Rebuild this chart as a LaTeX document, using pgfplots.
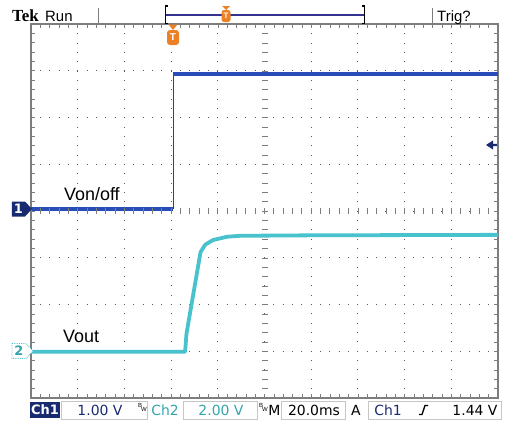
\documentclass[border=0pt]{standalone}
\usepackage{pgfplots}
\pgfplotsset{compat=1.18}
\usepackage{fontspec}
\setmainfont{Liberation Sans}
\newfontfamily\tekfont{Liberation Serif}
\newfontfamily\barfont{DejaVu Sans}

\definecolor{ch1}{RGB}{42,76,182}
\definecolor{navy}{RGB}{24,42,112}
\definecolor{ch2}{RGB}{72,194,204}
\definecolor{ch2txt}{RGB}{50,165,170}
\definecolor{tekorange}{RGB}{236,128,36}
\definecolor{grat}{RGB}{125,125,125}

\newcommand{\fs}[1]{\fontsize{#1}{#1}\selectfont}

\begin{document}
\begin{tikzpicture}
% page = 505 x 424 px, pixel coordinates (origin top left)
\begin{scope}[x=1bp,y=-1bp,shift={(-31bp,398bp)}]
  \path[use as bounding box] (0,0) rectangle (505,424);
\end{scope}

\begin{axis}[
    scale only axis,
    width=467bp, height=374bp,
    xmin=0, xmax=10, ymin=0, ymax=8,
    xtick={0,...,10}, ytick={0,...,8},
    minor x tick num=4, minor y tick num=4,
    xticklabels={}, yticklabels={},
    tick align=inside,
    major tick length=4bp, minor tick length=4bp,
    tick style={grat, line width=0.6bp},
    axis line style={grat, line width=1.4bp},
    grid=major,
    major grid style={black!65, line width=1bp,
        dash pattern=on 1bp off 8.34bp, dash phase=0.5bp},
]
% Ch2 (Vout), 2 V/div
\addplot[ch2, line width=3.8bp, line join=round] coordinates {
    (0,0.99) (3.30,0.99) (3.33,1.38) (3.63,3.12) (3.73,3.28)
    (3.90,3.38) (4.20,3.45) (4.48,3.47) (6.0,3.48) (10,3.49)};
% Ch1 (Von/off), 1 V/div
\addplot[ch1!55!violet, line width=0.8bp] coordinates {(3.04,4.04) (3.04,6.93)};
\addplot[ch1, line width=3.5bp] coordinates {(0,4.04) (3.04,4.04)};
\addplot[ch1, line width=3.5bp] coordinates {(3.04,6.93) (10,6.93)};
\end{axis}

\begin{scope}[x=1bp,y=-1bp,shift={(-31bp,398bp)}]
  % centre lines with cross ticks
  \draw[grat, line width=6bp, dash pattern=on 0.8bp off 8.54bp, dash phase=0.4bp]
    (31,211) -- (498,211);
  \draw[grat, line width=6bp, dash pattern=on 0.8bp off 8.54bp, dash phase=0.4bp]
    (264.5,398) -- (264.5,24);

  % top bar
  \node[anchor=base west, inner sep=0, font=\tekfont\fs{17}\bfseries] at (12,21) {Tek};
  \node[anchor=base west, inner sep=0, font=\fs{15}] at (45,21) {Run};
  \draw[grat, line width=1bp] (98,8) -- (98,24);
  \draw[grat, line width=1bp] (432,8) -- (432,24);
  \node[anchor=base west, inner sep=0, font=\fs{15}] at (437,21) {Trig?};
  \draw[black, line width=1bp] (168,6) -- (165.5,6) -- (165.5,23) -- (168,23);
  \draw[black, line width=1bp] (362,6) -- (364.5,6) -- (364.5,23) -- (362,23);
  \draw[black!40!blue!60!gray, line width=1.4bp] (166,15) -- (364,15);
  \fill[tekorange] (222,6) -- (230,6) -- (226,10) -- cycle;
  \fill[tekorange, rounded corners=2.5bp] (221.5,10) rectangle (230.5,22);
  \node[white, font=\fs{8}\bfseries, inner sep=0] at (226,16) {T};

  % trigger position marker
  \fill[tekorange] (168.5,24.5) -- (177.5,24.5) -- (173,30) -- cycle;
  \fill[tekorange, rounded corners=3bp] (167,30) rectangle (179,45);
  \node[white, font=\fs{10}\bfseries, inner sep=0] at (173,37.5) {T};

  % trigger level arrow
  \fill[navy] (486,145) -- (493,140.5) -- (493,143.8) -- (497,143.8)
    -- (497,146.2) -- (493,146.2) -- (493,149.5) -- cycle;

  % channel ground markers
  \fill[navy] (12,201.5) -- (25,201.5) -- (32,209) -- (25,216.5) -- (12,216.5) -- cycle;
  \node[white, font=\barfont\fs{13}\bfseries, inner sep=0] at (18.5,209) {1};
  \draw[ch2, fill=white, line width=0.8bp, densely dotted]
    (12,343.5) -- (26,343.5) -- (33,351) -- (26,358.5) -- (12,358.5) -- cycle;
  \node[ch2txt, font=\barfont\fs{13}\bfseries, inner sep=0] at (19,351) {2};

  % trace labels
  \node[anchor=base west, inner sep=0, font=\fs{18}] at (64,200) {Von/off};
  \node[anchor=base west, inner sep=0, font=\fs{18}] at (63,342) {Vout};

  % bottom status bar
  \fill[navy] (30,401.5) rectangle (60,418);
  \node[white, font=\barfont\fs{13}\bfseries, inner sep=0] at (45,410) {Ch1};
  \draw[gray!45, line width=0.6bp] (61,401) rectangle (147,419);
  \node[navy, font=\barfont\fs{14}, inner sep=0] at (100,410) {1.00 V};
  \node[font=\fs{6}, inner sep=0] at (140,405.5) {B};
  \node[font=\fs{6}, inner sep=0] at (144,409) {W};
  \node[ch2txt, font=\barfont\fs{14}, inner sep=0] at (165,410) {Ch2};
  \draw[gray!45, line width=0.6bp] (183,401) rectangle (257,419);
  \node[ch2txt, font=\barfont\fs{14}, inner sep=0] at (221,410) {2.00 V};
  \node[font=\fs{6}, inner sep=0] at (261,405.5) {B};
  \node[font=\fs{6}, inner sep=0] at (265,409) {W};
  \node[font=\barfont\fs{14}, inner sep=0] at (274.5,410) {M};
  \draw[gray!45, line width=0.6bp] (281,401) rectangle (345,419);
  \node[font=\barfont\fs{14}, inner sep=0] at (314,410) {20.0ms};
  \node[font=\barfont\fs{14}, inner sep=0] at (356,410) {A};
  \draw[gray!45, line width=0.6bp] (368,401) rectangle (501,419);
  \node[navy, font=\barfont\fs{14}, inner sep=0] at (388,410) {Ch1};
  \draw[black, line width=1.4bp] (419,414.5) -- (422,414.5) -- (425,405.5) -- (428,405.5);
  \node[font=\barfont\fs{14}, inner sep=0] at (475,410) {1.44 V};
\end{scope}
\end{tikzpicture}
\end{document}
